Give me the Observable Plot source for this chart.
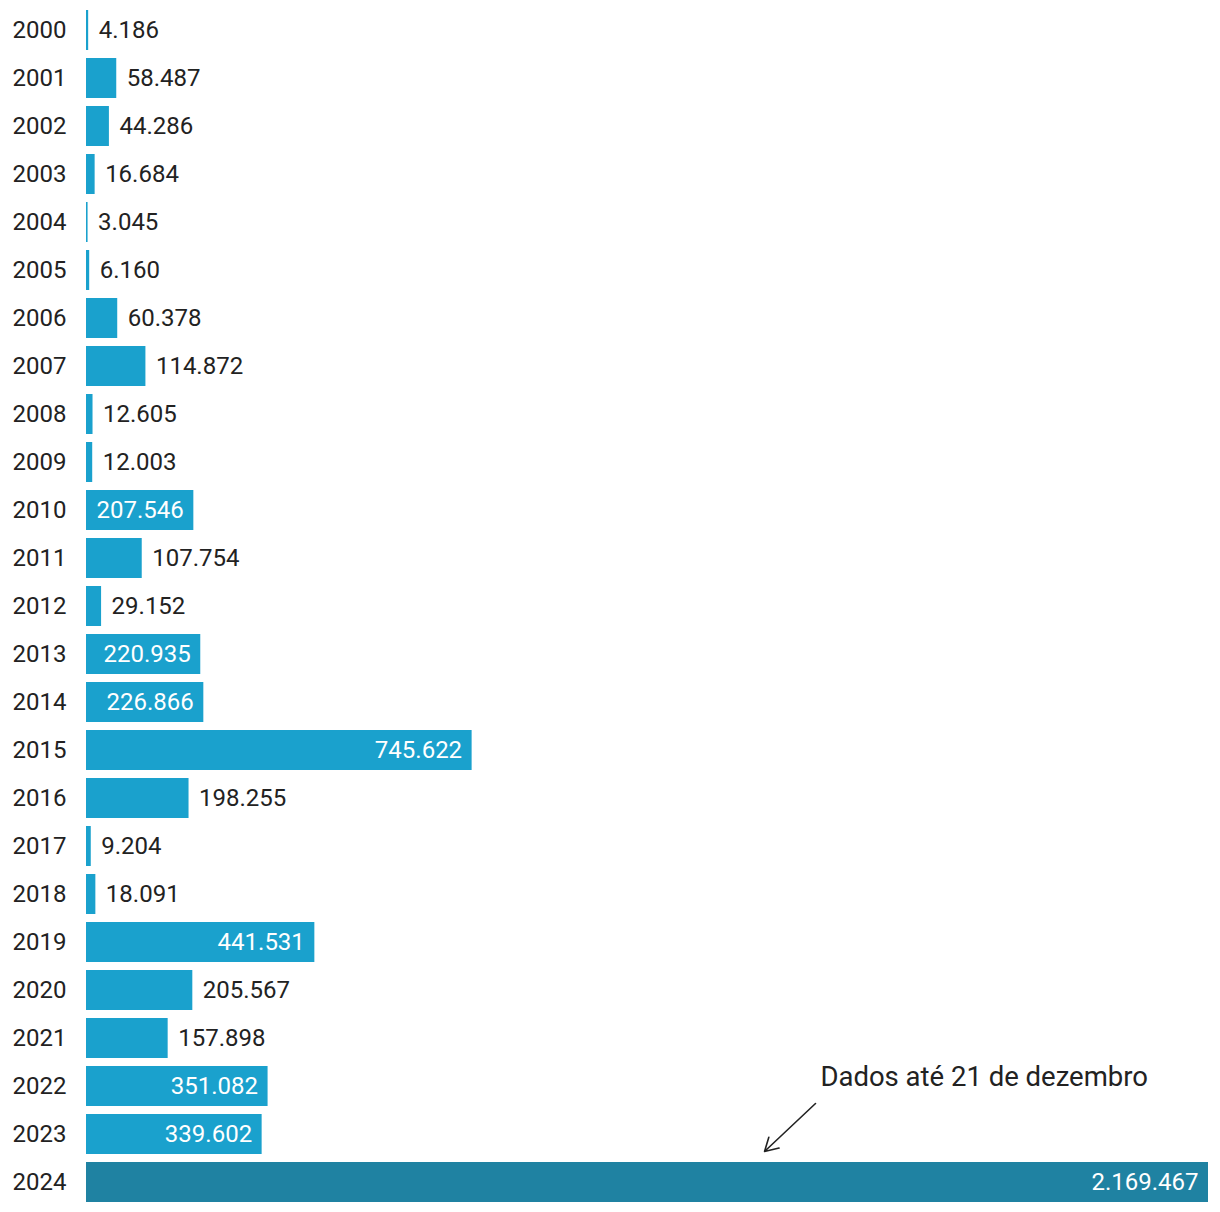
<!DOCTYPE html>
<html>
<head>
<meta charset="utf-8">
<script src="https://cdn.jsdelivr.net/npm/d3@7"></script>
<script src="https://cdn.jsdelivr.net/npm/@observablehq/plot@0.6"></script>
<style>
  html, body { margin: 0; padding: 0; background: #fff; }
  #chart svg { font-family: Roboto, sans-serif; }
</style>
</head>
<body>
<div id="chart"></div>
<script>
const years = ["2000","2001","2002","2003","2004","2005","2006","2007","2008","2009","2010","2011","2012","2013","2014","2015","2016","2017","2018","2019","2020","2021","2022","2023","2024"];
const values = [4186,58487,44286,16684,3045,6160,60378,114872,12605,12003,207546,107754,29152,220935,226866,745622,198255,9204,18091,441531,205567,157898,351082,339602,2169467];
const highlightYear = "2024";
const noteText = ["Dados até 21 de dezembro"];
const noteArrow = [{x1: 1409600, y1: "2023", x2: 1311000, y2: "2024"}];
const noteLabel = [{x: 1419000, y: "2023", text: noteText[0]}];

const data = years.map((y, i) => ({year: y, value: values[i]}));
const fmt = d3.formatLocale({decimal: ",", thousands: ".", grouping: [3], currency: ["", ""]}).format(",d");
const insideThreshold = 206000;

const chart = Plot.plot({
  width: 1220,
  height: 1212,
  marginLeft: 86,
  marginRight: 12,
  marginTop: 6,
  marginBottom: 6,
  style: {fontFamily: "Roboto, sans-serif", fontSize: "24px", color: "#222"},
  x: {axis: null, domain: [0, 2169467]},
  y: {domain: years, paddingInner: 1/6, paddingOuter: 1/12, label: null, tickSize: 0, tickPadding: 20},
  marks: [
    Plot.barX(data, {x: "value", y: "year", fill: d => d.year === highlightYear ? "#1f82a2" : "#1aa1cd"}),
    Plot.text(data.filter(d => d.value < insideThreshold), {x: "value", y: "year", text: d => fmt(d.value), textAnchor: "start", dx: 10, fill: "#222", fontSize: 24}),
    Plot.text(data.filter(d => d.value >= insideThreshold), {x: "value", y: "year", text: d => fmt(d.value), textAnchor: "end", dx: -10, fill: "#fff", fontSize: 24}),
    Plot.axisY({tickSize: 0, tickPadding: 20, fontSize: 24, fill: "#222", label: null}),
    Plot.arrow(noteArrow, {x1: "x1", y1: "y1", x2: "x2", y2: "y2", dy: -31, stroke: "#222", strokeWidth: 1.6, headLength: 14}),
    Plot.text(noteLabel, {x: "x", y: "y", text: "text", textAnchor: "start", dy: -57, fill: "#222", fontSize: 27.5})
  ]
});
document.getElementById("chart").appendChild(chart);
</script>
</body>
</html>
